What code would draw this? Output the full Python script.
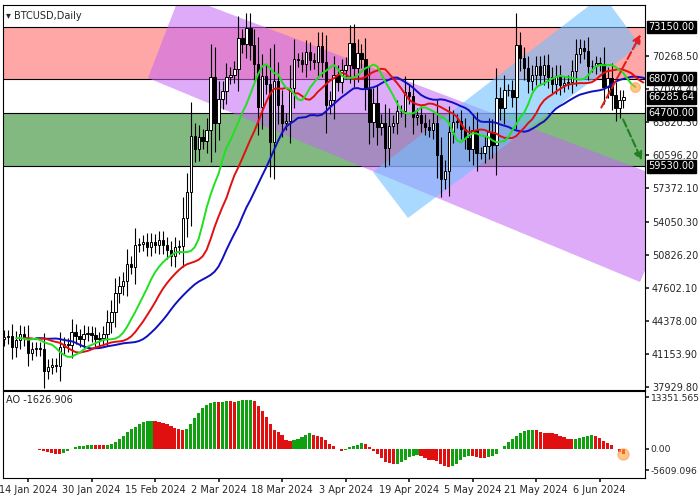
import numpy as np, pandas as pd, matplotlib
matplotlib.use("Agg")
import matplotlib.pyplot as plt, seaborn as sns
from matplotlib.patches import Polygon

sns.set_theme(style="white")
plt.rcParams['font.family'] = ['DejaVu Sans']

start_date = "2024-01-08"
closes = [42800,42900,41800,42500,43100,42700,41300,41600,41700,41600,39500,39900,40100,40000,41800,42100,42000,43300,42900,42600,
 43100,43200,43000,42600,42700,43100,44300,45300,47100,47800,48300,50000,49700,51800,51900,52100,51600,52100,51800,52300,51800,51300,50700,51600,51700,54500,57000,62500,61200,
 62400,62000,63100,68300,63800,66100,66900,68300,68500,69000,72100,71500,73100,71400,69500,65300,68400,67600,61900,67900,65500,63800,64000,67200,70000,69900,69500,70700,69900,69700,71300,
 69700,65500,66000,68500,67800,68900,69400,71600,69100,70600,70000,67100,63900,65700,63400,63800,61300,63500,63800,64900,64900,66800,66400,64300,64500,63800,63400,63100,63800,60600,
 58300,59100,62900,63900,64000,63200,62300,61200,63100,60800,60800,61500,62900,61600,66200,65200,67000,67000,66300,71400,70100,69100,67900,68500,69300,68500,69400,68300,67600,68400,67500,
 67700,67800,68800,70500,71100,70800,69300,69300,69600,69500,67300,68200,66500,65200,66000,66285.64]
open0 = 42600
levels = [73150.00, 68070.00, 64700.00, 59530.00]
last_price = 66285.64
ao_label = "AO -1626.906"
price_ticks = [70268.50,67044.40,63820.30,60596.20,57372.10,54050.30,50826.20,47602.10,44378.00,41153.90,37929.80]
ao_ticks = [13351.565, 0.00, -5609.096]
date_labels = ["14 Jan 2024","30 Jan 2024","15 Feb 2024","2 Mar 2024","18 Mar 2024","3 Apr 2024","19 Apr 2024","5 May 2024","21 May 2024","6 Jun 2024"]

dates = pd.date_range(start_date, periods=len(closes))
c = np.array(closes, float)
o = np.concatenate([[open0], c[:-1]])
rng = np.abs(c - o)
h = np.maximum(o, c) + 0.5*rng + 600
l = np.minimum(o, c) - 0.5*rng - 600
x = np.arange(len(c), dtype=float)
med = (h + l) / 2
df = pd.DataFrame({"x": x, "med": med})

def smma(n): return df["med"].ewm(alpha=1/n, adjust=False).mean().values
jaw, teeth, lips = smma(13), smma(8), smma(5)

fig = plt.figure(figsize=(7, 5), dpi=100)
ax = fig.add_axes([3/700, 1-390/500, 642/700, 385/500])
ax2 = fig.add_axes([3/700, 1-478/500, 642/700, 87/500])
i14 = list(dates).index(pd.Timestamp("2024-01-14"))
ppd = 3.97
xl = (i14 - 25/ppd, i14 + (645-28)/ppd)
s = 0.010221
ylo, yhi = 73150 - (390-27)/s, 73150 + (27-5)/s
for a in (ax, ax2):
    a.set_xlim(*xl)
    for sp in a.spines.values(): sp.set_color("black"); sp.set_linewidth(0.8)
ax.set_ylim(ylo, yhi)

def px(X, Y):
    return (xl[0] + (X-3)/ppd, 73150 - (Y-27)/s)

ax.axhspan(levels[1], levels[0], color="#ff6b6b", alpha=0.6, lw=0, zorder=0)
ax.axhspan(levels[3], levels[2], color="#2e8b2e", alpha=0.6, lw=0, zorder=0)
for lv in levels: ax.axhline(lv, color="black", lw=0.8, zorder=1)
ax.add_patch(Polygon([px(180,-5), px(148,78), px(640,282), px(682,185)], closed=True, color="#c466f5", alpha=0.55, lw=0, zorder=1))
ax.add_patch(Polygon([px(373,172), px(408,218), px(640,45), px(603,-5)], closed=True, color="#70c0ff", alpha=0.6, lw=0, zorder=1))

up = c >= o
ax.vlines(x, l, h, color="black", lw=0.8, zorder=3)
ax.bar(x[up], (c-o)[up], bottom=o[up], width=0.6, color="white", edgecolor="black", lw=0.7, zorder=4)
ax.bar(x[~up], (c-o)[~up], bottom=o[~up], width=0.6, color="black", edgecolor="black", lw=0.7, zorder=4)

sns.lineplot(x=x+8, y=jaw, ax=ax, color="#1010c0", lw=1.4, zorder=5)
sns.lineplot(x=x+5, y=teeth, ax=ax, color="#e01010", lw=1.4, zorder=5)
sns.lineplot(x=x+3, y=lips, ax=ax, color="#20e020", lw=1.4, zorder=5)
ax.plot([x[-1]+3], [lips[-1]], "o", ms=7, color="#ffa040", alpha=0.6, zorder=6)

ax.annotate("", xy=px(642,32), xytext=px(600,110), arrowprops=dict(arrowstyle="-|>", ls="--", color="#e02020", lw=1.5), zorder=6)
ax.annotate("", xy=px(643,163), xytext=px(622,117), arrowprops=dict(arrowstyle="-|>", ls="--", color="#208020", lw=1.5), zorder=6)

ax.yaxis.tick_right()
ax.set_yticks(price_ticks)
ax.set_yticklabels([f"{t:.2f}" for t in price_ticks], fontsize=7)
ax.tick_params(axis="y", length=3, pad=2, direction="out", right=True)
ax.set_xticks([])
for v in levels + [last_price]:
    ax.text(1.005, (v-ylo)/(yhi-ylo), f"{v:.2f}", transform=ax.transAxes, fontsize=7, color="white", va="center", ha="left",
            bbox=dict(boxstyle="square,pad=0.15", fc="black", ec="black"))
ax.text(0.005, 0.985, "▾ BTCUSD,Daily", transform=ax.transAxes, fontsize=7, va="top")

ao = (pd.Series(med).rolling(5, min_periods=1).mean() - pd.Series(med).rolling(34, min_periods=1).mean()).values
col = ["#10a010" if i > 0 and ao[i] >= ao[i-1] else "#e01010" for i in range(len(ao))]
ax2.bar(x, ao, width=0.8, color=col, lw=0)
ax2.plot([x[-1]], [ao[-1]], "o", ms=8, color="#ffa040", alpha=0.6, zorder=5)
ax2.set_ylim(-5609.096*1.35, 13351.565*1.12)
ax2.yaxis.tick_right()
ax2.set_yticks(ao_ticks)
ax2.set_yticklabels([f"{t:.3f}" if t else "0.00" for t in ao_ticks], fontsize=6.6)
ax2.tick_params(axis="y", length=3, pad=1, right=True)
ax2.text(0.005, 0.95, ao_label, transform=ax2.transAxes, fontsize=7, va="top")
tick_pos = [list(dates).index(pd.Timestamp(d)) for d in ["2024-01-14","2024-01-30","2024-02-15","2024-03-02","2024-03-18","2024-04-03","2024-04-19","2024-05-05","2024-05-21","2024-06-06"]]
ax2.set_xticks(tick_pos)
ax2.set_xticklabels(date_labels, fontsize=7)
ax2.tick_params(axis="x", length=3, pad=2, bottom=True)
fig.savefig("out.png", dpi=100)
